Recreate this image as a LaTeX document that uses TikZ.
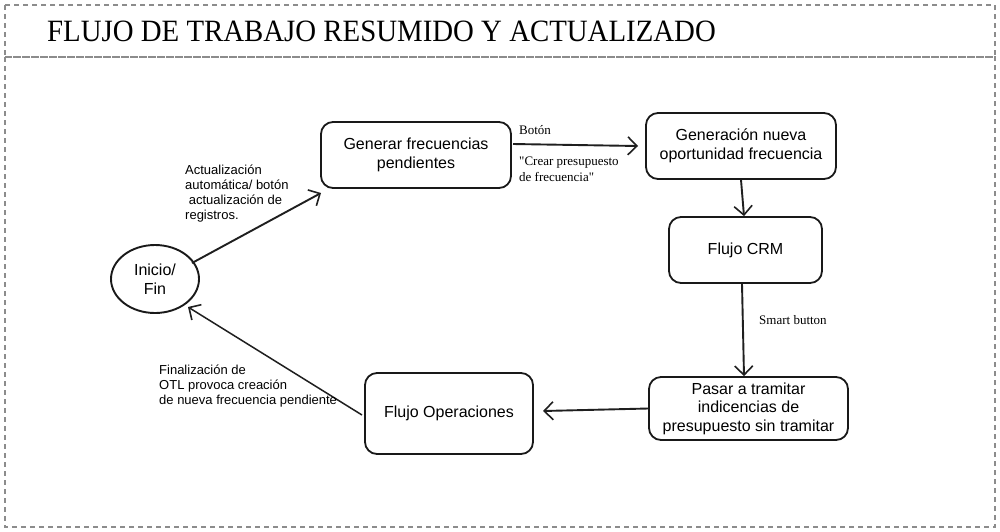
\documentclass[tikz,border=0pt]{standalone}
\usepackage{fontspec}
\setmainfont{Liberation Serif}
\setsansfont{Liberation Sans}
\newfontfamily\rawserif[Ligatures=TeXOff]{Liberation Serif}
\usetikzlibrary{arrows.meta,shapes.geometric}
\begin{document}
\begin{tikzpicture}[x=1pt,y=-1pt,
  frame/.style={draw=black!45,line width=1.3pt,dash pattern=on 5pt off 4pt},
  procbox/.style={draw=black!90,line width=1.8pt,rounded corners=12pt,font=\sffamily\fontsize{16}{18.5}\selectfont,align=center,inner sep=0pt},
  flow/.style={draw=black!88,line width=1.9pt,-{Straight Barb[length=9pt,width=18pt,line width=1.6pt]}},
  flowthin/.style={draw=black!88,line width=1.5pt,-{Straight Barb[length=9pt,width=18pt,line width=1.6pt]}},
  sanslbl/.style={font=\sffamily\fontsize{13}{15}\selectfont,align=left,anchor=north west,inner sep=0pt},
  seriflbl/.style={font=\rawserif\fontsize{13}{16}\selectfont,align=left,anchor=north west,inner sep=0pt}]
\useasboundingbox (0,0) rectangle (1000,531);
\fill[white] (0,0) rectangle (1000,531);
\draw[frame] (5,5) rectangle (995,57);
\draw[frame] (5,57) rectangle (995,527);
\node[anchor=west,inner sep=0pt] (title) at (47,31) {\scalebox{0.93}[1]{\fontsize{31}{34}\selectfont FLUJO DE TRABAJO RESUMIDO Y ACTUALIZADO}};

\node[draw=black!90,line width=1.9pt,ellipse,minimum width=88pt,minimum height=68pt,inner sep=0pt,font=\sffamily\fontsize{16}{19.5}\selectfont,align=center] (ini) at (155,279) {Inicio/\\Fin};
\node[procbox,minimum width=190pt,minimum height=66pt] (gen) at (416,155) {Generar frecuencias\\pendientes};
\node[procbox,minimum width=190pt,minimum height=66pt] (opp) at (741,146) {Generación nueva\\oportunidad frecuencia};
\node[procbox,minimum width=153pt,minimum height=66pt] (crm) at (745.5,250) {Flujo CRM};
\node[procbox,minimum width=199pt,minimum height=63pt] (pas) at (748.5,408.5) {Pasar a tramitar\\indicencias de\\presupuesto sin tramitar};
\node[procbox,minimum width=168pt,minimum height=81pt] (ops) at (449,413.5) {Flujo Operaciones};

\coordinate (a1) at (192,263);
\coordinate (a2) at (321,193);
\draw[flow] (a1) -- (a2);
\coordinate (b1) at (513,144);
\coordinate (b2) at (638,146);
\draw[flow] (b1) -- (b2);
\draw[flow] (opp.south -| 741,0) -- (crm.north -| 744,0);
\draw[flow] (crm.south -| 742,0) -- (pas.north -| 744,0);
\coordinate (c2) at (543,411);
\draw[flow] (pas.west) -- (c2);
\coordinate (d1) at (362,415);
\coordinate (d2) at (188,307);
\draw[flowthin] (d1) -- (d2);

\node[sanslbl] (l1) at (185,165) {Actualización\\automática/ botón\\\ actualización de\\registros.};
\node[seriflbl] (l2) at (519,125) {Botón};
\node[seriflbl] (l3) at (519,157) {"Crear presupuesto\\de frecuencia"};
\node[seriflbl] (l4) at (759,315) {Smart button};
\node[sanslbl] (l5) at (159,365) {Finalización de\\OTL provoca creación\\de nueva frecuencia pendiente};
\end{tikzpicture}
\end{document}
